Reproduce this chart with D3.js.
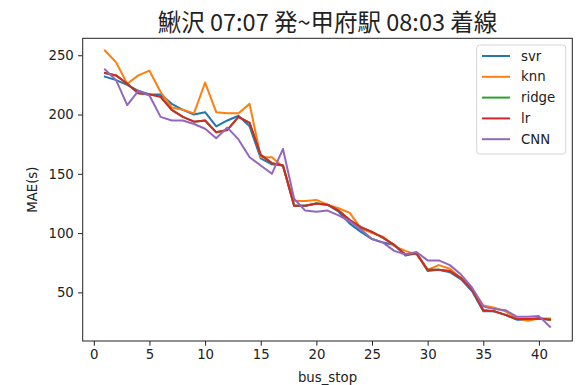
<!DOCTYPE html>
<html>
<head>
<meta charset="utf-8" />
<title>MAE</title>
<style type="text/css">
	body { margin: 0; background: #fff; }
	svg text { font-family: "DejaVu Sans", sans-serif; fill: #222; }
</style>
</head>
<body>
<svg id="chart" width="576" height="385"></svg>
<script src="https://cdn.jsdelivr.net/npm/d3@7"></script>
<script type="text/javascript">
// data
var stops = d3.range(1, 42);
var svr = [232, 229, 225, 220, 217, 217, 209, 204, 200, 202, 190, 195, 199, 190, 163, 158, 157, 123, 123, 125,
	124, 118, 108, 101, 95, 92, 90, 81, 83, 68, 69, 67, 61, 51, 34, 34, 31, 27, 27, 28, 27];
var knn = [254, 244, 226, 233, 237, 219, 206, 204, 201, 227, 202, 201, 201, 209, 164, 164, 156, 127, 127, 128,
	124, 121, 117, 104, 100, 97, 89, 85, 82, 69, 73, 70, 62, 53, 39, 37, 34, 28, 26, 28, 28];
var ridge = [235, 233, 226, 218, 217, 215, 204, 198, 194, 195, 185, 187, 198, 193, 166, 159, 157, 123, 123, 125,
	124, 119, 111, 105, 101, 96, 90, 82, 83, 69, 69, 68, 62, 52, 35, 34, 31, 27.5, 27.5, 28, 27];
var lr = [235, 233, 226, 218, 217, 215, 204, 198, 194, 195, 185, 187, 198, 193, 166, 159, 157, 123, 123, 125,
	124, 119, 111, 105, 101, 96, 90, 82, 83, 69, 69, 68, 62, 52, 35, 34, 31, 27.5, 27.5, 28, 27];
var cnn = [238, 229, 208, 220, 216, 198, 195, 195, 192, 188, 180, 189, 179, 164, 157, 150, 171, 129, 119, 118,
	119, 115, 110, 103, 95, 92, 85, 82, 84, 77, 77, 73, 65, 54, 38, 36, 35, 29.5, 29.5, 30, 21];
var seriesNames = ["svr", "knn", "ridge", "lr", "CNN"];
var xTicks = [0, 5, 10, 15, 20, 25, 30, 35, 40];
var yTicks = [50, 100, 150, 200, 250];

var series = [svr, knn, ridge, lr, cnn];
var colors = ["#1f77b4", "#ff7f0e", "#2ca02c", "#d62728", "#9467bd"];

var svg = d3.select("#chart");
var plotL = 82.7, plotR = 572.3, plotT = 38.3, plotB = 341;

var x = d3.scaleLinear().domain([-1, 43]).range([plotL, plotR]);
var y = d3.scaleLinear().domain([9, 264.3]).range([plotB, plotT]);

// lines
var line = d3.line()
	.x(function(d, i) { return x(stops[i]); })
	.y(function(d) { return y(d); });

svg.append("g").selectAll("path")
	.data(series)
	.enter().append("path")
	.attr("d", line)
	.attr("fill", "none")
	.attr("stroke", function(d, i) { return colors[i]; })
	.attr("stroke-width", 2)
	.attr("stroke-linejoin", "round")
	.attr("stroke-linecap", "square");

// axes
var xAxis = svg.append("g")
	.attr("transform", "translate(0," + plotB + ")")
	.call(d3.axisBottom(x).tickValues(xTicks).tickSize(4.7).tickPadding(4.2));
var yAxis = svg.append("g")
	.attr("transform", "translate(" + plotL + ",0)")
	.call(d3.axisLeft(y).tickValues(yTicks).tickSize(4.7).tickPadding(4.2));
[xAxis, yAxis].forEach(function(a) {
	a.select(".domain").remove();
	a.selectAll("line").attr("stroke", "#222").attr("stroke-width", 1);
	a.selectAll("text").style("font-size", "13.3px").attr("fill", "#222");
});

// frame
svg.append("rect")
	.attr("x", plotL).attr("y", plotT)
	.attr("width", plotR - plotL).attr("height", plotB - plotT)
	.attr("fill", "none").attr("stroke", "#222").attr("stroke-width", 1);

// title + labels
svg.append("text")
	.attr("x", (plotL + plotR) / 2).attr("y", 31)
	.attr("text-anchor", "middle")
	.style("font-family", "'Noto Sans CJK JP', sans-serif")
	.style("font-size", "23.5px")
	.text("鰍沢 07:07 発~甲府駅 08:03 着線");

svg.append("text")
	.attr("x", (plotL + plotR) / 2).attr("y", 382)
	.attr("text-anchor", "middle")
	.style("font-size", "13.3px")
	.text("bus_stop");

svg.append("text")
	.attr("transform", "translate(37," + (plotT + plotB) / 2 + ") rotate(-90)")
	.attr("text-anchor", "middle")
	.style("font-size", "13.3px")
	.text("MAE(s)");

// legend
var lg = svg.append("g");
lg.append("rect")
	.attr("x", 476.7).attr("y", 45)
	.attr("width", 89).attr("height", 109)
	.attr("rx", 3)
	.attr("fill", "#fff").attr("fill-opacity", 0.8)
	.attr("stroke", "#d5d5d5").attr("stroke-width", 1);
var item = lg.selectAll("g.item")
	.data(seriesNames)
	.enter().append("g")
	.attr("class", "item")
	.attr("transform", function(d, i) { return "translate(0," + (56 + i * 20.8) + ")"; });
item.append("line")
	.attr("x1", 482).attr("x2", 510)
	.attr("stroke", function(d, i) { return colors[i]; })
	.attr("stroke-width", 2);
item.append("text")
	.attr("x", 521).attr("dy", "0.35em")
	.style("font-size", "13.3px")
	.text(function(d) { return d; });
</script>
</body>
</html>
